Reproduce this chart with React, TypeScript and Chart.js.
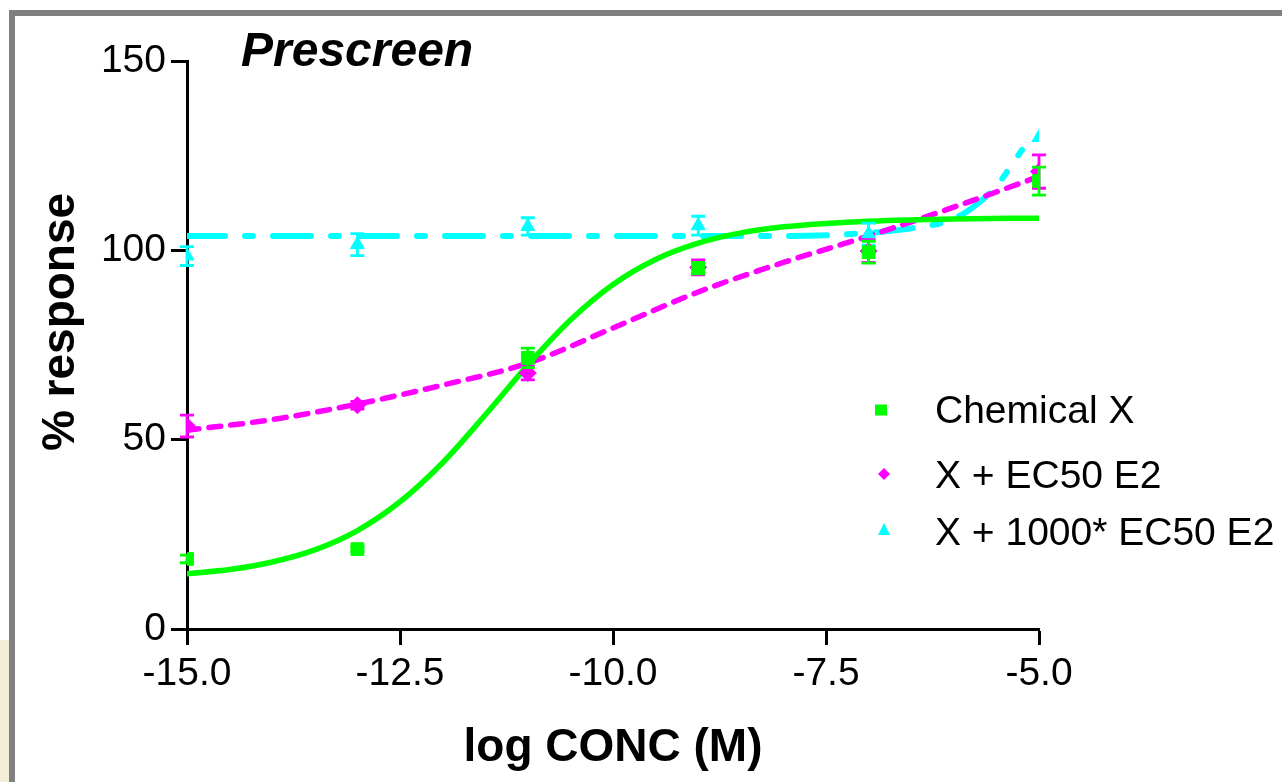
import React, { useEffect, useRef } from "react";
import { Chart, registerables } from "chart.js";

Chart.register(...registerables);

// ---- Data ----
const concentrations = [-15, -13, -11, -9, -7, -5];
const chemXMean = [18.5, 21.1, 71.6, 95.3, 99.5, 118.3];
const chemXErr = [1.0, 0.6, 2.6, 1.5, 2.9, 3.7];
const ec50Mean = [53.6, 59.1, 67.6, 95.5, 99.8, 120.8];
const ec50Err = [2.9, 1.0, 1.8, 2.0, 3.0, 4.4];
const ec1000Mean = [98.5, 101.5, 106.3, 106.5, 104.3, 129.8];
const ec1000Err = [2.5, 2.9, 2.3, 2.5, 2.9, 0];

const chemXCurveX = [-15, -14.5, -14, -13.5, -13, -12.5, -12, -11.5, -11, -10.5, -10, -9.5, -9, -8.5, -8, -7.5, -7, -6, -5];
const chemXCurveY = [14.6, 15.7, 17.7, 20.9, 26.0, 33.6, 43.9, 56.5, 69.7, 81.6, 91.0, 97.6, 101.9, 104.6, 106.2, 107.1, 107.7, 108.3, 108.5];
const ec50CurveX = [-15, -14, -13, -12, -11, -10, -9, -8, -7, -6, -5];
const ec50CurveY = [52.5, 55.3, 59.4, 64.4, 70.2, 79.5, 89.0, 96.8, 103.8, 111.4, 119.5];
const ec1000CurveX = [-15, -14, -13, -12, -11, -10, -9, -8, -7.5, -7, -6.5, -6, -5.75, -5.5, -5.2];
const ec1000CurveY = [103.8, 103.8, 103.8, 103.8, 103.8, 103.8, 103.8, 103.8, 104.0, 104.6, 105.8, 108.3, 111.8, 117.0, 126.5];

const xTicks = [-15, -12.5, -10, -7.5, -5];
const yTicks = [0, 50, 100, 150];
const seriesLabels = ["Chemical X", "X + EC50 E2", "X + 1000* EC50 E2"];
const chartTitle = "Prescreen";
const xTitle = "log CONC (M)";
const yTitle = "% response";

const GREEN = "#00ff00";
const MAGENTA = "#ff00ff";
const CYAN = "#00ffff";
const FONT = "'Liberation Sans', Arial, Helvetica, sans-serif";

const toPoints = (xs: number[], ys: number[]) => xs.map((x, i) => ({ x, y: ys[i] }));

const errorBarPlugin = {
  id: "errorBars",
  beforeDatasetDraw(chart: any, args: any) {
    const ds = chart.data.datasets[args.index] as any;
    if (!ds.errors) return;
    const { ctx } = chart;
    const xs = chart.scales.x;
    const ys = chart.scales.y;
    ctx.save();
    ctx.strokeStyle = ds.borderColor;
    ctx.lineWidth = 2.8;
    ds.data.forEach((p: any, i: number) => {
      const e = ds.errors[i];
      if (!e) return;
      const px = xs.getPixelForValue(p.x);
      const top = ys.getPixelForValue(p.y + e);
      const bot = ys.getPixelForValue(p.y - e);
      ctx.beginPath();
      ctx.moveTo(px, top);
      ctx.lineTo(px, bot);
      ctx.moveTo(px - 7, top);
      ctx.lineTo(px + 7, top);
      ctx.moveTo(px - 7, bot);
      ctx.lineTo(px + 7, bot);
      ctx.stroke();
    });
    ctx.restore();
  },
};

const textPlugin = {
  id: "extraText",
  afterDraw(chart: any) {
    const { ctx } = chart;
    ctx.save();
    ctx.fillStyle = "#000";
    // Title
    ctx.font = `italic bold 48px ${FONT}`;
    ctx.textAlign = "left";
    ctx.textBaseline = "alphabetic";
    ctx.fillText(chartTitle, 241, 66);
    // Y axis title
    ctx.save();
    ctx.translate(74, 322);
    ctx.rotate(-Math.PI / 2);
    ctx.font = `bold 46px ${FONT}`;
    ctx.textAlign = "center";
    ctx.fillText(yTitle, 0, 0);
    ctx.restore();
    // Legend
    const rows = [
      { color: GREEN, shape: "rect", mx: 881, my: 410, base: 423 },
      { color: MAGENTA, shape: "diamond", mx: 884, my: 474, base: 488 },
      { color: CYAN, shape: "triangle", mx: 884, my: 530, base: 545 },
    ];
    ctx.font = `39px ${FONT}`;
    rows.forEach((r, i) => {
      ctx.fillStyle = r.color;
      ctx.beginPath();
      if (r.shape === "rect") {
        ctx.rect(r.mx - 6, r.my - 5.5, 12, 11);
      } else if (r.shape === "diamond") {
        ctx.moveTo(r.mx, r.my - 6);
        ctx.lineTo(r.mx + 6, r.my);
        ctx.lineTo(r.mx, r.my + 6);
        ctx.lineTo(r.mx - 6, r.my);
        ctx.closePath();
      } else {
        ctx.moveTo(r.mx, r.my - 7);
        ctx.lineTo(r.mx + 6, r.my + 5);
        ctx.lineTo(r.mx - 6, r.my + 5);
        ctx.closePath();
      }
      ctx.fill();
      ctx.fillStyle = "#000";
      ctx.fillText(seriesLabels[i], 935, r.base);
    });
    ctx.restore();
  },
};

export default function App() {
  const canvasRef = useRef<HTMLCanvasElement | null>(null);

  useEffect(() => {
    if (!canvasRef.current) return;
    const pointDs = (label: string, ys: number[], errs: number[], color: string, style: string, radius: number) => ({
      label,
      data: toPoints(concentrations, ys),
      errors: errs,
      showLine: false,
      pointStyle: style,
      pointRadius: radius,
      pointBackgroundColor: color,
      pointBorderColor: color,
      pointBorderWidth: 1,
      borderColor: color,
      backgroundColor: color,
    });
    const curveDs = (label: string, xs: number[], ys: number[], color: string, dash: number[], width: number) => ({
      label,
      data: toPoints(xs, ys),
      showLine: true,
      pointRadius: 0,
      borderColor: color,
      backgroundColor: color,
      borderWidth: width,
      borderDash: dash,
      borderCapStyle: "round",
      cubicInterpolationMode: "monotone",
      fill: false,
    });

    const chart = new Chart(canvasRef.current, {
      type: "scatter",
      data: {
        datasets: [
          pointDs(seriesLabels[0], chemXMean, chemXErr, GREEN, "rect", 9),
          pointDs(seriesLabels[1], ec50Mean, ec50Err, MAGENTA, "rectRot", 8.5),
          pointDs(seriesLabels[2], ec1000Mean, ec1000Err, CYAN, "triangle", 8),
          curveDs(seriesLabels[0] + " fit", chemXCurveX, chemXCurveY, GREEN, [], 5.5),
          curveDs(seriesLabels[1] + " fit", ec50CurveX, ec50CurveY, MAGENTA, [12, 10], 5.5),
          curveDs(seriesLabels[2] + " fit", ec1000CurveX, ec1000CurveY, CYAN, [38, 20, 8, 20], 6),
        ] as any,
      },
      options: {
        responsive: false,
        animation: false,
        layout: { padding: { top: 61, right: 243, left: 0, bottom: 0 } },
        plugins: {
          legend: { display: false },
          tooltip: { enabled: false },
          title: { display: false },
        },
        scales: {
          x: {
            type: "linear",
            min: -15,
            max: -5,
            afterBuildTicks: (s: any) => {
              s.ticks = xTicks.map((v) => ({ value: v }));
            },
            afterFit: (s: any) => {
              s.height = 153;
            },
            ticks: {
              callback: (v: any) => Number(v).toFixed(1),
              font: { family: FONT, size: 39 },
              color: "#000",
              padding: 6,
              maxRotation: 0,
              autoSkip: false,
            },
            grid: {
              display: true,
              drawOnChartArea: false,
              drawTicks: true,
              tickLength: 16,
              tickWidth: 3,
              tickColor: "#000",
            },
            border: { display: true, color: "#000", width: 3 },
            title: {
              display: true,
              text: xTitle,
              color: "#000",
              font: { family: FONT, size: 46, weight: "bold" },
              padding: { top: 0, bottom: 6 },
            },
          },
          y: {
            type: "linear",
            min: 0,
            max: 150,
            afterBuildTicks: (s: any) => {
              s.ticks = yTicks.map((v) => ({ value: v }));
            },
            afterFit: (s: any) => {
              s.width = 187;
            },
            ticks: {
              font: { family: FONT, size: 39 },
              color: "#000",
              padding: 5,
              autoSkip: false,
            },
            grid: {
              display: true,
              drawOnChartArea: false,
              drawTicks: true,
              tickLength: 16,
              tickWidth: 3,
              tickColor: "#000",
            },
            border: { display: true, color: "#000", width: 3 },
          },
        },
      } as any,
      plugins: [errorBarPlugin, textPlugin],
    });
    return () => chart.destroy();
  }, []);

  return (
    <>
      <canvas
        ref={canvasRef}
        width={1282}
        height={782}
        style={{ position: "fixed", left: 0, top: 0, width: 1282, height: 782, display: "block", background: "#fff" }}
      />
      <div
        style={{
          position: "fixed",
          left: 0,
          top: 640,
          width: 9,
          height: 142,
          background: "#f4eed9",
          pointerEvents: "none",
        }}
      />
      <div
        style={{
          position: "fixed",
          left: 9,
          top: 10,
          width: 1282 - 9,
          height: 782 - 10,
          boxSizing: "border-box",
          borderTop: "6px solid #808080",
          borderLeft: "6px solid #808080",
          pointerEvents: "none",
        }}
      />
    </>
  );
}
